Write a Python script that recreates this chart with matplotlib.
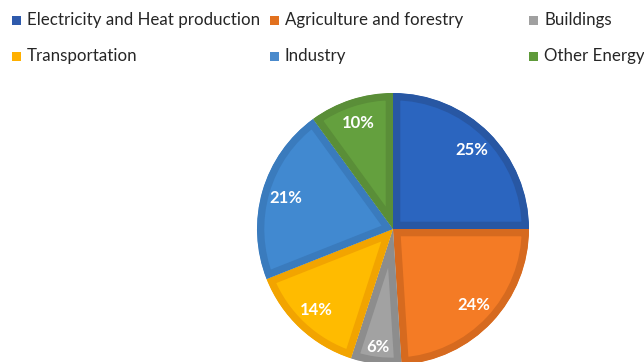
import matplotlib
matplotlib.use("Agg")
import matplotlib.pyplot as plt
from matplotlib.patches import Rectangle

# data
labels = ["Electricity and Heat production", "Agriculture and forestry", "Buildings",
          "Transportation", "Industry", "Other Energy"]
shares = [25, 24, 6, 14, 21, 10]

# colours: fill, border, legend swatch
fills = ["#2b65bf", "#f47b25", "#a2a2a2", "#ffbb00", "#4189d0", "#64a03e"]
edges = ["#2857a3", "#d66a1f", "#8d8d8d", "#f2a400", "#3a7bbd", "#5a8e38"]
swatch = ["#2e5aac", "#e2711f", "#a0a0a0", "#ffb000", "#4a8acc", "#5f9a3a"]

plt.rcParams['font.family'] = ['Lato', 'DejaVu Sans']

W, H, DPI = 644, 362, 100
fig = plt.figure(figsize=(W / DPI, H / DPI), dpi=DPI)

# pie centre at (393, 229) px, radius 136 px
cx, cy, R = 393, 229, 136
ax = fig.add_axes([0, 0, 1, 1])

wedges, _, autotexts = ax.pie(
    shares, colors=fills, startangle=90, counterclock=False,
    autopct="%d%%", pctdistance=0.82, radius=1,
    wedgeprops=dict(linewidth=10.5, joinstyle="miter"),
    textprops=dict(color="white", fontsize=12, fontweight="bold"))
for w, ec in zip(wedges, edges):
    w.set_edgecolor(ec)
    w.set_clip_on(True)
    w.set_clip_path(w)  # keep only the inner half of the stroke
p = autotexts[2].get_position()
autotexts[2].set_position((p[0] * 1.07, p[1] * 1.07))

ax.set_aspect("auto")
ax.set_xlim(-cx / R, (W - cx) / R)
ax.set_ylim(-(H - cy) / R, cy / R)
ax.axis("off")

# legend, laid out row-wise like the original
col_x = [12, 270, 529]
row_y = [20, 56]
for i, (lab, c) in enumerate(zip(labels, swatch)):
    x = col_x[i % 3]
    y = row_y[i // 3]
    fig.patches.append(Rectangle((x / W, (H - y - 4.5) / H), 9 / W, 9 / H,
                                 transform=fig.transFigure, facecolor=c,
                                 edgecolor="none"))
    fig.text((x + 15) / W, (H - y) / H, lab, fontsize=12.2, color="#262626",
             va="center", ha="left")

fig.savefig("out.png", dpi=DPI)
